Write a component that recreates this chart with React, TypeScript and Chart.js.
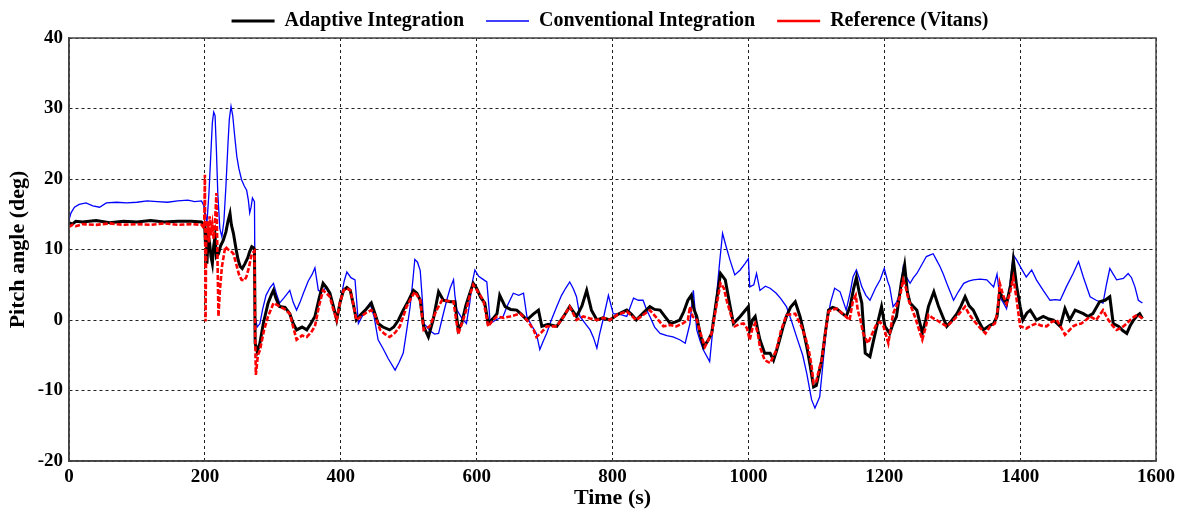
import React, { useEffect, useRef } from "react";
import { Chart, registerables } from "chart.js";

Chart.register(...registerables);

// ---- Data ----
const seriesLabels = ["Adaptive Integration", "Conventional Integration", "Reference (Vitans)"];

const xTicks = [0, 200, 400, 600, 800, 1000, 1200, 1400, 1600];
const yTicks = [-20, -10, 0, 10, 20, 30, 40];

const adaptiveT = [0, 5, 10, 20, 40, 60, 80, 100, 120, 140, 160, 180, 195, 199, 200, 201, 202, 203, 205, 207, 209, 211, 213, 215, 217, 220, 223, 227, 231, 234, 237, 239, 242, 246, 249, 252, 255, 259, 263, 266, 269, 272, 273, 274, 277, 281, 286, 293, 298, 301, 305, 310, 318, 325, 330, 335, 343, 350, 356, 362, 368, 374, 379, 384, 389, 394, 399, 404, 409, 414, 419, 423, 430, 437, 445, 450, 455, 462, 472, 478, 485, 492, 500, 507, 512, 517, 522, 529, 536, 544, 551, 561, 568, 573, 578, 584, 590, 595, 600, 606, 612, 617, 624, 630, 634, 642, 650, 659, 666, 674, 683, 691, 696, 705, 718, 728, 737, 747, 755, 762, 769, 777, 786, 796, 808, 821, 828, 835, 845, 855, 862, 870, 877, 885, 892, 899, 905, 911, 916, 920, 924, 929, 934, 940, 946, 953, 959, 966, 972, 978, 983, 988, 994, 1000, 1002, 1006, 1010, 1014, 1017, 1024, 1032, 1037, 1041, 1046, 1051, 1056, 1062, 1069, 1076, 1081, 1086, 1091, 1096, 1100, 1104, 1108, 1113, 1118, 1124, 1130, 1137, 1144, 1150, 1155, 1159, 1163, 1167, 1172, 1179, 1184, 1189, 1196, 1201, 1208, 1213, 1218, 1225, 1230, 1234, 1238, 1248, 1256, 1261, 1265, 1273, 1280, 1286, 1292, 1300, 1307, 1313, 1319, 1325, 1331, 1338, 1346, 1355, 1361, 1366, 1370, 1375, 1380, 1386, 1390, 1395, 1400, 1404, 1410, 1415, 1424, 1434, 1441, 1449, 1459, 1466, 1473, 1481, 1493, 1500, 1507, 1517, 1525, 1532, 1537, 1545, 1551, 1557, 1562, 1567, 1572, 1576, 1580];
const adaptiveV = [13.8, 13.6, 14.0, 13.9, 14.1, 13.8, 14.0, 13.9, 14.1, 13.9, 14.0, 14.0, 13.9, 13.5, 12.8, 10.5, 13.0, 8.0, 12.0, 10.9, 9.0, 8.0, 10.5, 11.8, 9.0, 9.4, 10.5, 11.3, 12.5, 14.0, 15.1, 13.5, 12.3, 10.0, 8.5, 7.6, 7.3, 8.0, 8.8, 9.7, 10.4, 10.2, 10.0, -3.3, -4.5, -3.3, -0.5, 2.4, 3.6, 4.2, 3.0, 1.9, 1.8, 0.9, -0.5, -1.4, -1.0, -1.4, -0.5, 0.5, 3.0, 5.2, 4.6, 3.8, 2.0, 0, 2.5, 4.2, 4.6, 4.2, 2.0, 0, 0.8, 1.5, 2.4, 1.0, -0.5, -1.0, -1.4, -1.0, 0, 1.4, 2.8, 4.2, 3.8, 2.8, -0.9, -2.4, 0, 4.0, 2.8, 2.6, 2.6, -1.4, -0.5, 2.0, 3.8, 5.2, 4.5, 3.2, 2.4, -0.5, 0.2, 0.9, 3.5, 1.9, 1.5, 1.4, 0.8, 0, 0.8, 1.4, -0.9, -0.6, -0.9, 0.5, 1.9, 0.5, 2.0, 4.2, 1.4, 0, 0.3, 0, 0.8, 1.4, 0.8, 0, 1.0, 1.9, 1.5, 1.4, 0.5, -0.5, -0.3, 0, 1.2, 2.8, 3.5, 1.5, 0.5, -2.0, -3.8, -3.0, -1.9, 2.8, 6.6, 5.7, 2.5, -0.5, 0, 0.5, 1.2, 1.9, -1.4, 0, 0.5, -1.5, -2.8, -4.7, -4.7, -5.7, -4.5, -2.8, -1.0, 0.5, 1.8, 2.6, 0.5, -1.5, -3.8, -6.5, -9.5, -9.3, -7.5, -5.7, -2.0, 1.4, 1.8, 1.6, 1.0, 0.5, 2.0, 4.5, 6.0, 4.0, 2.4, -4.7, -5.2, -3.0, -0.9, 1.9, -0.9, -1.9, -0.5, 0.5, 5.2, 7.8, 4.0, 2.4, 1.4, -1.9, 0, 1.9, 4.0, 1.9, 0.5, -0.9, 0, 0.9, 2.0, 3.3, 2.0, 1.4, 0, -1.4, -0.8, -0.5, 0.5, 4.0, 3.0, 2.3, 5.0, 8.5, 4.7, 1.9, 0, 1.0, 1.4, 0, 0.5, 0.2, 0, -0.9, 1.6, 0, 1.4, 0.9, 0.5, 0.9, 2.6, 2.8, 3.3, -0.5, -0.9, -1.5, -1.9, -0.8, 0, 0.6, 0.9, 0.2];

const conventionalT = [0, 3, 8, 15, 25, 35, 45, 55, 70, 85, 100, 115, 130, 145, 160, 175, 185, 195, 198, 201, 203, 206, 209, 211, 213, 215, 217, 219, 222, 225, 228, 231, 234, 236, 238.5, 241, 244, 247, 250, 254, 258, 261.5, 264, 266, 268, 270, 273, 274, 277, 281, 285, 290, 296, 301, 306, 310, 317, 325, 330, 335, 340, 345, 352, 358, 362, 367, 373, 379, 386, 394, 400, 405, 409, 415, 421, 426, 433, 443, 449, 455, 462, 470, 480, 486, 492, 497, 502, 506, 509, 513, 517, 520, 522, 527, 531, 538, 544, 550, 556, 561, 566, 568, 571, 578, 585, 590, 594, 597.5, 603, 609, 615, 618, 620, 628, 639, 645, 654, 662, 669, 674, 681, 688, 693, 698, 703, 710, 718, 725, 731, 737, 742, 747, 752, 760, 767, 772, 777, 781, 786, 794, 801, 811, 821, 831, 838, 845, 850, 855, 862, 870, 880, 889, 899, 907, 914, 919, 924, 929, 934, 943, 948, 953, 958, 962, 967, 973, 980, 988, 995, 1000, 1002, 1008, 1012, 1017, 1025, 1032, 1041, 1048, 1056, 1063, 1071, 1080, 1086, 1093, 1098, 1105, 1110, 1115, 1121, 1127, 1135, 1144, 1150, 1154, 1159, 1163, 1167, 1173, 1179, 1187, 1194, 1200, 1205, 1208, 1213, 1218, 1223, 1228, 1233, 1238, 1243, 1248, 1255, 1262, 1267, 1272, 1277, 1282, 1287, 1292, 1297, 1302, 1309, 1317, 1324, 1331, 1341, 1351, 1361, 1366, 1370, 1375, 1380, 1385, 1390, 1395, 1400, 1409, 1417, 1424, 1434, 1444, 1452, 1459, 1468, 1478, 1486, 1493, 1503, 1512, 1522, 1527, 1532, 1537, 1542, 1552, 1559, 1564, 1569, 1574, 1580];
const conventionalV = [14.2, 15.2, 16.0, 16.4, 16.6, 16.2, 16.0, 16.6, 16.7, 16.6, 16.7, 16.9, 16.8, 16.7, 16.9, 17.0, 16.8, 16.9, 16.3, 15.0, 13.7, 18.0, 24.0, 28.0, 29.5, 29.0, 24.0, 18.0, 13.0, 11.8, 14.0, 19.0, 25.0, 28.5, 30.3, 29.0, 26.0, 23.2, 21.5, 19.9, 19.0, 18.4, 17.0, 15.2, 16.0, 17.3, 16.8, 0.5, -1.0, -0.5, 1.5, 3.5, 4.6, 5.2, 3.5, 2.4, 3.2, 4.2, 2.5, 1.4, 2.5, 3.8, 5.5, 6.5, 7.4, 4.2, 4.0, 4.7, 3.0, 0.5, 3.0, 5.5, 6.8, 6.0, 5.7, -0.5, 0.8, 2.4, 0.5, -2.8, -4.0, -5.5, -7.1, -6.0, -4.7, -1.5, 1.8, 5.5, 8.6, 8.2, 7.0, 3.0, -0.5, -1.0, -1.5, -2.0, -1.9, 0.5, 2.8, 4.5, 5.7, 3.5, 1.4, 0.3, -0.5, 2.5, 5.5, 7.1, 6.2, 5.8, 5.4, 2.0, -0.5, 0, 0.5, 2.0, 3.8, 3.5, 3.8, 0.5, -0.8, -1.9, -4.2, -3.0, -1.9, 0, 1.9, 3.5, 4.5, 5.4, 4.5, 3.3, 0.5, -0.5, -1.4, -2.5, -4.0, -2.0, 0, 3.5, 0.9, 0.8, 0.5, 3.1, 2.8, 2.8, 1.5, 0.5, -1.0, -1.9, -2.2, -2.4, -2.8, -3.3, -0.5, 4.2, -1.4, -3.0, -4.3, -5.9, -1.0, 3.3, 8.5, 12.3, 10.5, 8.5, 6.4, 7.1, 8.0, 8.7, 4.7, 5.0, 6.6, 4.2, 4.8, 4.5, 3.8, 3.0, 1.9, 0, -2.4, -5.0, -7.6, -11.3, -12.5, -10.9, -6.0, -0.9, 2.5, 4.5, 4.0, 1.4, 4.0, 6.1, 7.1, 6.0, 4.7, 3.5, 2.8, 4.5, 5.7, 7.3, 5.5, 4.7, 1.9, 2.5, 3.8, 7.6, 6.0, 5.2, 6.0, 6.6, 7.8, 9.0, 9.2, 9.4, 8.5, 7.6, 6.5, 5.2, 4.0, 2.8, 4.0, 5.2, 5.5, 5.7, 5.8, 5.7, 4.7, 6.5, 3.3, 2.5, 1.6, 5.0, 9.2, 8.5, 7.6, 6.1, 7.1, 5.7, 4.2, 2.8, 2.9, 2.8, 4.7, 6.6, 8.3, 6.1, 3.3, 2.8, 2.4, 5.0, 7.3, 6.5, 5.7, 5.9, 6.6, 6.0, 4.7, 2.8, 2.4];

const referenceT = [0, 5, 10, 20, 40, 60, 80, 100, 120, 140, 160, 180, 195, 199, 200, 201, 202, 204, 206, 207, 209, 211, 213, 215, 217, 218, 220, 222, 225, 230, 234, 238, 242, 246, 250, 254, 258, 261, 265, 269, 273, 274, 275, 278, 281, 287, 293, 301, 305, 310, 318, 325, 330, 335, 343, 350, 356, 362, 368, 374, 379, 384, 389, 394, 399, 404, 409, 414, 419, 423, 430, 437, 445, 450, 458, 465, 472, 480, 487, 492, 497, 503, 509, 517, 522, 531, 541, 549, 558, 566, 573, 580, 585, 590, 595, 602, 610, 617, 624, 630, 640, 649, 657, 664, 674, 684, 688, 695, 703, 718, 728, 737, 747, 757, 767, 777, 787, 796, 808, 821, 835, 845, 855, 865, 875, 885, 894, 903, 911, 914, 918, 924, 930, 936, 946, 952, 959, 964, 968, 974, 980, 987, 993, 998, 1002, 1006, 1010, 1014, 1017, 1024, 1032, 1041, 1048, 1056, 1062, 1069, 1078, 1084, 1089, 1093, 1096, 1100, 1104, 1108, 1113, 1118, 1124, 1130, 1140, 1149, 1154, 1158, 1161, 1165, 1169, 1176, 1182, 1189, 1194, 1199, 1206, 1213, 1218, 1223, 1228, 1232, 1236, 1245, 1250, 1256, 1261, 1265, 1271, 1277, 1285, 1292, 1300, 1307, 1313, 1319, 1325, 1331, 1340, 1349, 1356, 1363, 1367, 1370, 1375, 1380, 1385, 1390, 1395, 1400, 1409, 1416, 1424, 1431, 1439, 1446, 1454, 1460, 1466, 1472, 1478, 1484, 1490, 1497, 1503, 1512, 1517, 1522, 1530, 1536, 1542, 1547, 1552, 1557, 1562, 1567, 1572, 1576, 1580];
const referenceV = [13.2, 13.5, 13.3, 13.6, 13.5, 13.7, 13.5, 13.6, 13.5, 13.7, 13.5, 13.6, 13.5, 13.0, 20.6, -0.2, 12.0, 14.0, 11.0, 14.7, 12.0, 13.5, 11.5, 14.0, 18.0, 12.0, 0.5, 4.0, 7.5, 10.4, 10.0, 9.8, 9.4, 8.0, 6.5, 5.7, 5.6, 6.1, 7.5, 9.4, 9.8, -2.0, -7.8, -5.0, -4.3, -1.5, 0.5, 2.4, 2.2, 1.9, 1.5, 0.9, -1.0, -2.8, -2.2, -2.4, -1.8, -0.9, 2.0, 4.2, 3.8, 3.3, 1.5, 0, 2.5, 4.2, 4.5, 4.2, 2.0, 0, 0.5, 1.0, 1.4, 0.8, -1.4, -2.0, -2.4, -1.8, -0.9, 0.5, 1.9, 3.0, 4.0, 2.8, -1.4, -0.9, 1.4, 2.8, 2.7, 2.6, -2.0, 0, 1.5, 3.5, 5.0, 4.0, 2.8, -0.9, 0, 0.5, 0.3, 0.5, 0.7, 0.9, 0, -1.4, -2.4, -1.8, -0.9, -0.9, 0.5, 1.9, 0, 0.5, 0.2, 0, 0.3, 0, 0.8, 1.2, 0, 0.7, 1.4, 0.3, -0.9, -0.7, -0.9, -0.5, 0, 1.9, 0.5, 0, -2.0, -3.8, -1.9, 1.5, 5.2, 4.5, 2.8, 0.8, -0.9, -0.6, -0.5, -1.2, -2.8, -1.2, -0.5, -2.0, -3.8, -5.7, -6.1, -4.3, -1.5, 0.7, 0.8, 0.9, -0.9, -2.5, -4.3, -6.5, -9.0, -8.7, -7.0, -5.7, -2.0, 1.2, 1.5, 1.6, 0.8, 0, 2.8, 3.5, 1.4, 0, -1.9, -3.3, -2.0, -0.5, -0.3, -0.9, -3.3, 0.9, 2.0, 3.3, 5.7, 4.5, 2.8, 0.5, -1.0, -2.8, -1.0, 0.7, 0.3, 0, -0.5, -0.9, -0.2, 0.5, 1.2, 1.9, 0.8, 0, -1.0, -1.9, -0.9, -0.5, 1.5, 5.2, 3.5, 2.3, 3.8, 6.0, 2.8, -0.9, -1.2, -0.8, -0.5, -0.8, -0.9, -0.3, 0, -1.0, -2.1, -1.5, -0.9, -0.6, -0.5, 0, 0.5, 0, 0.7, 1.4, 0, -0.8, -1.4, -1.2, -0.9, -0.5, 0, 0.4, 0.7, 0.5, 0.2];

const seriesColors = ["#000000", "#0000ff", "#ff0000"];

const FONT = "'Liberation Serif', 'Times New Roman', serif";
const LEGEND_SHIFT_X = 32;
const LEGEND_SHIFT_Y = -11;

const toPoints = (t: number[], v: number[]) => t.map((x, i) => ({ x, y: v[i] }));

const framePlugin = {
  id: "frame",
  afterDatasetsDraw(chart: any) {
    const { ctx, chartArea: a } = chart;
    ctx.save();
    ctx.strokeStyle = "#444";
    ctx.lineWidth = 1.5;
    ctx.strokeRect(a.left, a.top, a.right - a.left, a.bottom - a.top);
    ctx.restore();
  },
};

const legendShiftPlugin = {
  id: "legendShift",
  afterLayout(chart: any) {
    const lg = chart.legend;
    if (lg) {
      lg.left += LEGEND_SHIFT_X;
      lg.right += LEGEND_SHIFT_X;
      lg.top += LEGEND_SHIFT_Y;
    }
  },
};

export default function App() {
  const ref = useRef<HTMLCanvasElement | null>(null);

  useEffect(() => {
    if (!ref.current) return;
    const chart = new Chart(ref.current, {
      type: "line",
      data: {
        datasets: [
          {
            label: seriesLabels[0],
            data: toPoints(adaptiveT, adaptiveV),
            borderColor: seriesColors[0],
            backgroundColor: seriesColors[0],
            borderWidth: 3,
            pointRadius: 0,
            pointStyle: "line",
            tension: 0,
            order: 1,
          },
          {
            label: seriesLabels[1],
            data: toPoints(conventionalT, conventionalV),
            borderColor: seriesColors[1],
            backgroundColor: seriesColors[1],
            borderWidth: 1.3,
            pointRadius: 0,
            pointStyle: "line",
            tension: 0,
            order: 2,
          },
          {
            label: seriesLabels[2],
            data: toPoints(referenceT, referenceV),
            borderColor: seriesColors[2],
            backgroundColor: seriesColors[2],
            borderWidth: 2.6,
            borderDash: [5, 2],
            pointRadius: 0,
            pointStyle: "line",
            tension: 0,
            order: 0,
          },
        ],
      },
      options: {
        animation: false,
        responsive: true,
        maintainAspectRatio: false,
        layout: { padding: { left: 0, right: 33, top: 0, bottom: 0 } },
        plugins: {
          tooltip: { enabled: false },
          legend: {
            display: true,
            position: "top",
            maxHeight: 38,
            labels: {
              usePointStyle: true,
              pointStyle: "line",
              pointStyleWidth: 43,
              padding: 22,
              color: "#000",
              font: { family: FONT, size: 20, weight: "bold" },
              sort: (a: any, b: any) => a.datasetIndex - b.datasetIndex,
            },
          },
        },
        scales: {
          x: {
            type: "linear",
            min: xTicks[0],
            max: xTicks[xTicks.length - 1],
            afterBuildTicks: (scale: any) => {
              scale.ticks = xTicks.map((v) => ({ value: v }));
            },
            afterFit: (scale: any) => {
              scale.height = 53;
            },
            ticks: {
              color: "#000",
              padding: 5,
              maxRotation: 0,
              font: { family: FONT, size: 19, weight: "bold" },
              callback: (v: any) => String(v),
            },
            grid: { color: "#222", lineWidth: 1, drawTicks: false },
            border: { display: true, color: "#444", width: 1.5, dash: [3, 3] },
            title: {
              display: true,
              text: "Time (s)",
              color: "#000",
              font: { family: FONT, size: 22, weight: "bold" },
              padding: { top: 0, bottom: 2 },
            },
          },
          y: {
            type: "linear",
            min: yTicks[0],
            max: yTicks[yTicks.length - 1],
            afterBuildTicks: (scale: any) => {
              scale.ticks = yTicks.map((v) => ({ value: v }));
            },
            afterFit: (scale: any) => {
              scale.width = 69;
            },
            ticks: {
              color: "#000",
              padding: 6,
              font: { family: FONT, size: 19, weight: "bold" },
              callback: (v: any) => String(v),
            },
            grid: { color: "#222", lineWidth: 1, drawTicks: false },
            border: { display: true, color: "#444", width: 1.5, dash: [3, 3] },
            title: {
              display: true,
              text: "Pitch angle (deg)",
              color: "#000",
              font: { family: FONT, size: 22, weight: "bold" },
              padding: { top: 5, bottom: 0 },
            },
          },
        },
      },
      plugins: [framePlugin, legendShiftPlugin],
    });
    return () => chart.destroy();
  }, []);

  return (
    <div style={{ position: "absolute", left: 0, top: 0, width: 1189, height: 514, background: "#fff" }}>
      <canvas ref={ref} />
    </div>
  );
}
